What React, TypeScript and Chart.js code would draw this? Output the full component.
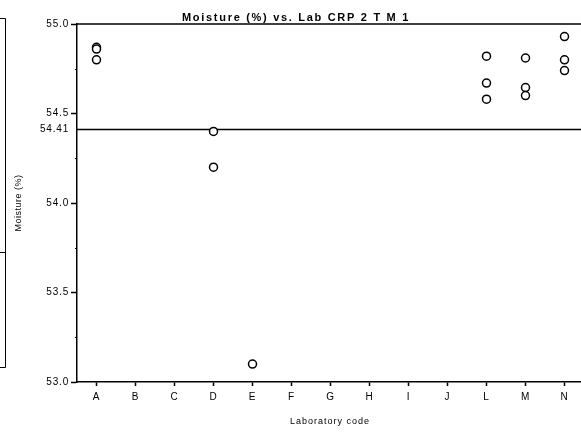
import React, { useEffect, useRef } from 'react';
import { Chart, registerables } from 'chart.js';
Chart.register(...registerables);

const labCodes = ['A', 'B', 'C', 'D', 'E', 'F', 'G', 'H', 'I', 'J', 'L', 'M', 'N'];
const sampleLabs = ['A', 'A', 'A', 'D', 'D', 'E', 'L', 'L', 'L', 'M', 'M', 'M', 'N', 'N', 'N'];
const moistureValues = [54.87, 54.86, 54.8, 54.4, 54.2, 53.1, 54.82, 54.67, 54.58, 54.81, 54.645, 54.6, 54.93, 54.8, 54.74];
const referenceValue = 54.41;
const yMajorTicks = [53.0, 53.5, 54.0, 54.5, 55.0];
const yMinorTicks = [53.25, 53.75, 54.25, 54.75];
const chartTitle = 'Moisture (%) vs. Lab CRP 2 T M 1';
const xTitle = 'Laboratory code';
const yTitle = 'Moisture (%)';

const FONT = '"Liberation Sans", Arial, sans-serif';

const decor = {
  id: 'decor',
  beforeDraw(chart: any) {
    chart.ctx.letterSpacing = '0.8px';
  },
  beforeDatasetsDraw(chart: any) {
    const { ctx, chartArea: ca, scales } = chart;
    ctx.save();
    ctx.strokeStyle = '#000';
    ctx.lineWidth = 1.5;
    const ry = scales.y.getPixelForValue(referenceValue);
    ctx.beginPath();
    ctx.moveTo(ca.left, ry);
    ctx.lineTo(ca.right, ry);
    ctx.stroke();
    ctx.restore();
  },
  afterDraw(chart: any) {
    const { ctx, chartArea: ca, scales } = chart;
    ctx.save();
    ctx.strokeStyle = '#000';
    ctx.lineWidth = 1.5;
    // top frame line
    ctx.beginPath();
    ctx.moveTo(ca.left, ca.top);
    ctx.lineTo(ca.right, ca.top);
    ctx.stroke();
    // minor ticks
    ctx.lineWidth = 1;
    yMinorTicks.forEach((v) => {
      const py = Math.round(scales.y.getPixelForValue(v)) + 0.5;
      ctx.beginPath();
      ctx.moveTo(ca.left - 2, py);
      ctx.lineTo(ca.left, py);
      ctx.stroke();
    });
    // left cropped box
    ctx.beginPath();
    ctx.moveTo(0, 18.5);
    ctx.lineTo(5.5, 18.5);
    ctx.lineTo(5.5, 367.5);
    ctx.lineTo(0, 367.5);
    ctx.moveTo(0, 252.5);
    ctx.lineTo(5.5, 252.5);
    ctx.stroke();

    ctx.fillStyle = '#000';
    // title
    ctx.font = `bold 11px ${FONT}`;
    ctx.letterSpacing = '1.7px';
    ctx.textAlign = 'center';
    ctx.textBaseline = 'alphabetic';
    ctx.fillText(chartTitle, 296, 21);
    // x title
    ctx.font = `9px ${FONT}`;
    ctx.letterSpacing = '1px';
    ctx.fillText(xTitle, 330, 424);
    // y title
    ctx.translate(21, (ca.top + ca.bottom) / 2);
    ctx.rotate(-Math.PI / 2);
    ctx.letterSpacing = '0.5px';
    ctx.fillText(yTitle, 0, 0);
    ctx.restore();
  },
};

export default function App() {
  const ref = useRef<HTMLCanvasElement | null>(null);
  useEffect(() => {
    document.body.style.margin = '0';
    const canvas = ref.current!;
    const chart = new Chart(canvas, {
      type: 'line',
      data: {
        labels: labCodes,
        datasets: [
          {
            data: sampleLabs.map((lab, i) => ({ x: lab, y: moistureValues[i] })),
            showLine: false,
            pointStyle: 'circle',
            pointRadius: 4,
            pointHoverRadius: 4,
            pointBorderWidth: 1.5,
            pointBorderColor: '#000',
            pointBackgroundColor: '#fff',
          },
        ],
      },
      options: {
        animation: false,
        responsive: false,
        events: [],
        layout: { autoPadding: false, padding: { top: 24, left: 0, right: 0, bottom: 0 } },
        plugins: { legend: { display: false }, tooltip: { enabled: false }, title: { display: false } },
        scales: {
          x: {
            type: 'category',
            offset: true,
            afterFit: (s: any) => {
              s.height = 52;
              s.paddingLeft = 0;
              s.paddingRight = 0;
            },
            grid: {
              display: true,
              drawOnChartArea: false,
              offset: false,
              tickLength: 4,
              tickColor: '#000',
              tickWidth: 1.5,
            },
            border: { display: true, color: '#000', width: 1.5 },
            ticks: {
              color: '#000',
              font: { family: FONT, size: 10 },
              padding: 5,
              autoSkip: false,
              maxRotation: 0,
            },
          },
          y: {
            type: 'linear',
            min: 53,
            max: 55,
            afterFit: (s: any) => {
              s.width = 77;
              s.paddingTop = 0;
              s.paddingBottom = 0;
            },
            afterBuildTicks: (s: any) => {
              s.ticks = [...yMajorTicks, referenceValue].sort((a, b) => a - b).map((v) => ({ value: v }));
            },
            grid: {
              display: true,
              drawOnChartArea: false,
              tickLength: 6,
              tickWidth: 1.5,
              tickColor: (c: any) => (c.tick && c.tick.value === referenceValue ? 'rgba(0,0,0,0)' : '#000'),
            },
            border: { display: true, color: '#000', width: 1.5 },
            ticks: {
              color: '#000',
              font: { family: FONT, size: 10 },
              padding: 2,
              autoSkip: false,
              callback: (v: any) => (Number(v) === referenceValue ? String(referenceValue) : Number(v).toFixed(1)),
            },
          },
        },
      },
      plugins: [decor],
    });
    return () => chart.destroy();
  }, []);
  return (
    <div style={{ position: 'fixed', left: 0, top: 0, width: 581, height: 434, overflow: 'hidden', background: '#fff' }}>
      <canvas ref={ref} width={584} height={434} style={{ width: 584, height: 434, display: 'block' }} />
    </div>
  );
}
